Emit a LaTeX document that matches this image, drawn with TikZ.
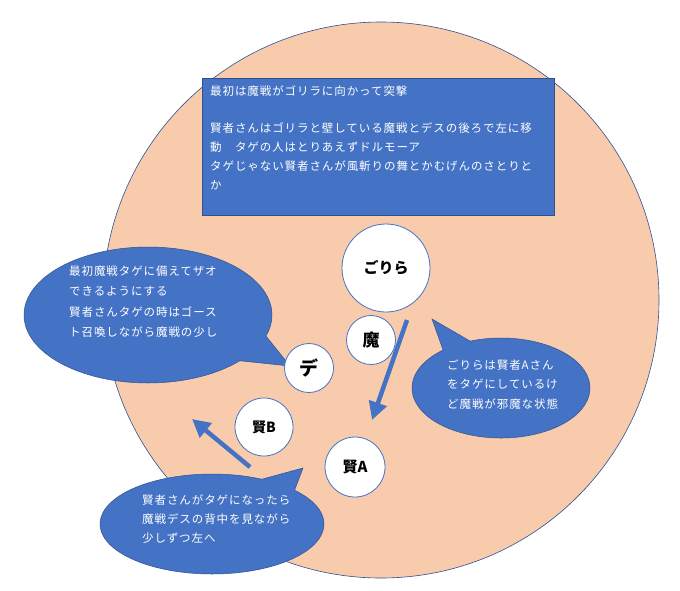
\documentclass[tikz,border=0pt]{standalone}
\usepackage{fontspec}
\setmainfont{Noto Sans CJK JP}
\newfontfamily\jpsp[LetterSpace=8]{Noto Sans CJK JP}
\usetikzlibrary{arrows.meta,shapes.geometric}
\definecolor{peach}{HTML}{F8CBAD}
\definecolor{oblue}{HTML}{4472C4}
\definecolor{oedge}{HTML}{2F528F}
\begin{document}
\begin{tikzpicture}[x=1pt,y=-1pt,
  bubble/.style={fill=oblue,draw=oedge,line width=0.5pt},
  notetext/.style={anchor=north west,inner sep=0pt,align=left,text=white,font=\jpsp\fontsize{11.5}{#1}\selectfont},
  player/.style={circle,fill=white,draw=oblue,line width=0.8pt,inner sep=0pt},
  bigarrow/.style={draw=oblue,line width=4.5pt,-{Triangle[width=18pt,length=18pt]}}]
\useasboundingbox (0,0) rectangle (680,590);
\fill[white] (0,0) rectangle (680,590);
% stage
\node[circle,draw=oedge,fill=peach,minimum size=556pt,inner sep=0pt,line width=0.6pt] (stage) at (381,300) {};
% top box
\node[rectangle,fill=oblue,draw=oedge,line width=0.6pt,minimum width=352pt,minimum height=137pt,inner sep=0pt] (topbox) at (378,146.5) {};
\node[notetext=19] (toptext) at (210,85.5) {最初は魔戦がゴリラに向かって突撃\\[18pt]賢者さんはゴリラと壁している魔戦とデスの後ろで左に移\\動　タゲの人はとりあえずドルモーア\\タゲじゃない賢者さんが風斬りの舞とかむげんのさとりと\\か};
% left bubble
\coordinate (ltip) at (290,366);
\path[bubble] (148,315) ++(42.3:124 and 68) arc[start angle=42.3,end angle=378,x radius=124,y radius=68] -- (ltip) -- cycle;
\node[notetext=20.5] (ltext) at (69,265.5) {最初魔戦タゲに備えてザオ\\できるようにする\\賢者さんタゲの時はゴース\\ト召喚しながら魔戦の少し};
% right bubble
\coordinate (rtip) at (432,319);
\path[bubble] (501,388) ++(249.7:89 and 50) arc[start angle=249.7,end angle=589.4,x radius=89,y radius=50] -- (rtip) -- cycle;
\node[notetext=19.5] (rtext) at (447,359.5) {ごりらは賢者Aさん\\をタゲにしているけ\\ど魔戦が邪魔な状態};
% bottom bubble
\coordinate (btip) at (303,468);
\path[bubble] (212,524) ++(317.5:112 and 50) arc[start angle=317.5,end angle=656.4,x radius=112,y radius=50] -- (btip) -- cycle;
\node[notetext=19] (btext) at (142,494.5) {賢者さんがタゲになったら\\魔戦デスの背中を見ながら\\少しずつ左へ};
% players
\node[player,minimum size=88pt,font=\bfseries\fontsize{15}{15}\selectfont] (gorira) at (386,268) {ごりら};
\node[player,minimum size=49pt,font=\bfseries\fontsize{17}{17}\selectfont] (ma) at (371,340) {魔};
\node[player,minimum size=49pt,font=\bfseries\fontsize{19}{19}\selectfont] (de) at (309,368) {デ};
\node[player,minimum size=58pt,font=\bfseries\fontsize{14}{14}\selectfont] (kenb) at (264,427) {賢B};
\node[player,minimum size=60pt,font=\bfseries\fontsize{15}{15}\selectfont] (kena) at (355,467) {賢A};
% arrows
\coordinate (a1s) at (407,320);
\coordinate (a1e) at (372,420);
\coordinate (a2s) at (250,467);
\coordinate (a2e) at (192,419);
\draw[bigarrow] (a1s) -- (a1e);
\draw[bigarrow] (a2s) -- (a2e);
\end{tikzpicture}
\end{document}
